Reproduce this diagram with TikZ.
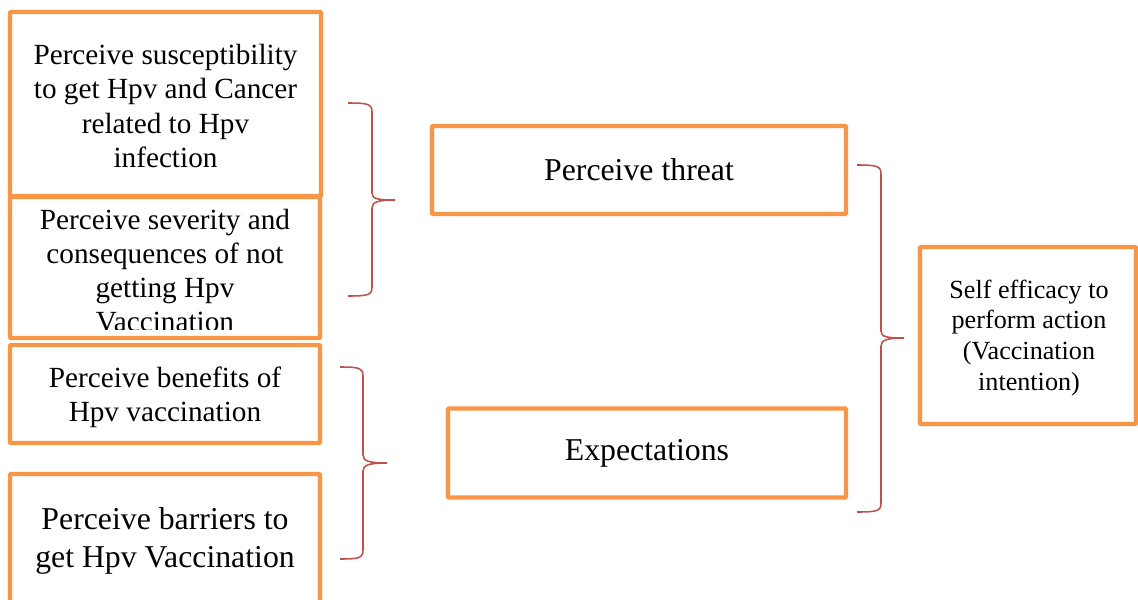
\documentclass[tikz,border=0pt]{standalone}
\usepackage{fontspec}
\setmainfont{Liberation Serif}
\usepackage{tikz}

\definecolor{boxorange}{HTML}{F79646}
\definecolor{bracered}{HTML}{C0504D}

\tikzset{
  box/.style={draw=boxorange, line width=3pt, rounded corners=0.6pt, fill=white, inner sep=0pt},
  txtA/.style={align=center, font=\fontsize{20.8}{24.2}\selectfont},
  txtB/.style={align=center, font=\fontsize{22.6}{27}\selectfont},
  txtC/.style={align=center, font=\fontsize{18.6}{22}\selectfont},
  brk/.style={draw=bracered, line width=1.1pt}
}

\begin{document}
\begin{tikzpicture}[x=0.025cm, y=-0.025cm]
\fill[white] (0,0) rectangle (1138,599);
\useasboundingbox (0,0) rectangle (1138,599);
\clip (0,0) rectangle (1138,599);

% left column
\node[box, minimum width=7.775cm, minimum height=4.6cm] (susc) at (165.5,104) {};
\node[txtA] (susctxt) at (165.5,106)
  {Perceive susceptibility\\to get Hpv and Cancer\\related to Hpv\\infection};
\node[box, minimum width=7.75cm, minimum height=3.525cm] (sev) at (165,267.5) {};
\begin{scope}
\clip (12,199) rectangle (318,329);
\node[txtA] (sevtxt) at (165,271) {Perceive severity and\\consequences of not\\getting Hpv\\Vaccination};
\end{scope}
\node[box, minimum width=7.75cm, minimum height=2.45cm] (ben) at (165,394) {};
\node[txtA] (bentxt) at (165,397) {Perceive benefits of\\Hpv vaccination};
\node[box, minimum width=7.75cm, minimum height=3.65cm] (bar) at (165,547) {};
\node[txtB] (bartxt) at (165,541) {Perceive barriers to\\get Hpv Vaccination};

% middle column
\node[box, txtB, minimum width=10.35cm, minimum height=2.2cm] (threat) at (639,170) {Perceive threat};
\node[box, txtB, minimum width=9.95cm, minimum height=2.225cm] (expect) at (647,453) {Expectations};

% right column
\node[box, minimum width=5.4cm, minimum height=4.425cm] (self) at (1028,335.5) {};
\node[txtC] (selftxt) at (1029,338) {Self efficacy to\\perform action\\(Vaccination\\intention)};

% braces
\draw[brk] (348,103) .. controls (368,103) and (372,104) .. (372,112) -- (372,193)
  .. controls (372,199) and (378,200) .. (395,200)
  .. controls (378,200) and (372,202) .. (372,208) -- (372,287)
  .. controls (372,295) and (368,296) .. (348,296);
\draw[brk] (340,367) .. controls (359,367) and (363,368) .. (363,376) -- (363,455)
  .. controls (363,461) and (369,463) .. (387,463)
  .. controls (369,463) and (363,465) .. (363,471) -- (363,550)
  .. controls (363,558) and (359,559) .. (340,559);
\draw[brk] (857,165) .. controls (877,165) and (881,166) .. (881,174) -- (881,331)
  .. controls (881,337) and (887,338) .. (904,338)
  .. controls (887,338) and (881,340) .. (881,346) -- (881,503)
  .. controls (881,511) and (877,512) .. (857,512);
\end{tikzpicture}
\end{document}
